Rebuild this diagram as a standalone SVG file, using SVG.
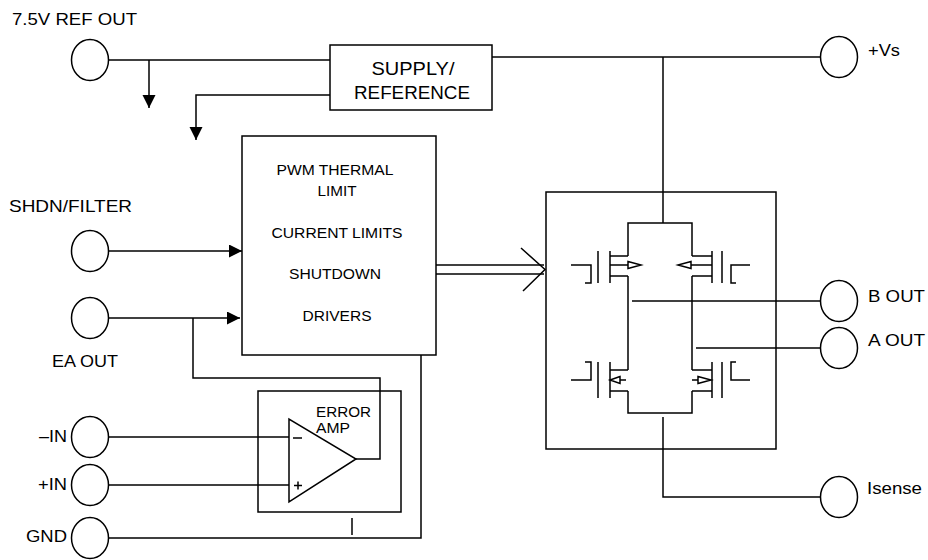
<svg xmlns="http://www.w3.org/2000/svg" width="928" height="560" viewBox="0 0 928 560">
<style>
  .s{fill:none;stroke:#000;stroke-width:1.5}
  .pin{fill:#fff;stroke:#000;stroke-width:1.5}
  .box{fill:#fff;stroke:#000;stroke-width:1.5}
  text{font-family:"Liberation Sans",Arial,Helvetica,sans-serif;fill:#000}
  .lbl{font-size:17px}
  .in{font-size:15.5px;text-anchor:middle}
  .amp{font-size:15.5px}
  .sup{font-size:18px;text-anchor:middle}
  .hol{fill:#fff;stroke:#000;stroke-width:1.5}
</style>
<defs>
  <marker id="arr" markerUnits="userSpaceOnUse" markerWidth="14" markerHeight="14" refX="13" refY="6.5" orient="auto">
    <path d="M0,0 L13,6.5 L0,13 z" fill="#000"/>
  </marker>
</defs>
<rect width="928" height="560" fill="#fff"/>

<g id="connectors" class="s">
  <!-- REF OUT to supply -->
  <path d="M108.5,60 H330"/>
  <path d="M149,60 V108" marker-end="url(#arr)"/>
  <path d="M330,95 H196 V140" marker-end="url(#arr)"/>
  <!-- supply to +Vs -->
  <path d="M492,57 H820.5"/>
  <path d="M663,57 V223"/>
  <!-- SHDN, EA OUT -->
  <path d="M108.5,251 H242" marker-end="url(#arr)"/>
  <path d="M108.5,318 H240" marker-end="url(#arr)"/>
  <path d="M193,318 V378 H380 V459 H356"/>
  <!-- inputs -->
  <path d="M108.5,437 H289"/>
  <path d="M108.5,485 H289"/>
  <!-- GND -->
  <path d="M108.5,538 H421 V355"/>
  <path d="M352,518 V535"/>
  <!-- PWM to bridge -->
  <path d="M436,265 H544"/>
  <path d="M436,274 H544"/>
  <path d="M521,248 L545,269.5 L523,291"/>
  <!-- outputs -->
  <path d="M632,301 H820.5"/>
  <path d="M696,348 H820.5"/>
  <path d="M663,417 V497 H820.5"/>
</g>

<g id="ref-out">
  <ellipse class="pin" cx="90" cy="60" rx="18.5" ry="20.5"/>
  <text class="lbl" x="12" y="25" textLength="125" lengthAdjust="spacingAndGlyphs">7.5V REF OUT</text>
</g>

<g id="supply">
  <rect class="box" x="330" y="45" width="162" height="65"/>
  <text class="sup" x="413" y="75" textLength="83" lengthAdjust="spacingAndGlyphs">SUPPLY/</text>
  <text class="sup" x="412" y="99" textLength="116" lengthAdjust="spacingAndGlyphs">REFERENCE</text>
</g>

<g id="pwm">
  <rect class="box" x="242" y="136" width="194" height="219"/>
  <text class="in" x="335" y="175" textLength="117" lengthAdjust="spacingAndGlyphs">PWM THERMAL</text>
  <text class="in" x="337" y="196" textLength="39" lengthAdjust="spacingAndGlyphs">LIMIT</text>
  <text class="in" x="337" y="238" textLength="131" lengthAdjust="spacingAndGlyphs">CURRENT LIMITS</text>
  <text class="in" x="335" y="279" textLength="92" lengthAdjust="spacingAndGlyphs">SHUTDOWN</text>
  <text class="in" x="337" y="321" textLength="69" lengthAdjust="spacingAndGlyphs">DRIVERS</text>
</g>

<g id="shdn">
  <ellipse class="pin" cx="90" cy="251" rx="18.5" ry="20.5"/>
  <text class="lbl" x="9" y="212" textLength="123" lengthAdjust="spacingAndGlyphs">SHDN/FILTER</text>
</g>

<g id="ea-out">
  <ellipse class="pin" cx="90" cy="318" rx="18.5" ry="20.5"/>
  <text class="lbl" x="52" y="367" textLength="66" lengthAdjust="spacingAndGlyphs">EA OUT</text>
</g>

<g id="minus-in">
  <ellipse class="pin" cx="90" cy="437" rx="18.5" ry="20.5"/>
  <text class="lbl" x="67" y="442" text-anchor="end" textLength="28" lengthAdjust="spacingAndGlyphs">–IN</text>
</g>

<g id="plus-in">
  <ellipse class="pin" cx="90" cy="485" rx="18.5" ry="20.5"/>
  <text class="lbl" x="67" y="490" text-anchor="end" textLength="29" lengthAdjust="spacingAndGlyphs">+IN</text>
</g>

<g id="gnd">
  <ellipse class="pin" cx="90" cy="538" rx="18.5" ry="20.5"/>
  <text class="lbl" x="26" y="542" textLength="41" lengthAdjust="spacingAndGlyphs">GND</text>
</g>

<g id="error-amp">
  <rect class="s" x="258" y="391" width="143" height="121"/>
  <path class="s" d="M289,419 L289,502 L356,459 Z"/>
  <path class="s" d="M293,438 H302"/>
  <path class="s" d="M294,485.5 H302 M298,481.5 V489.5"/>
  <text class="amp" x="316" y="417" textLength="55" lengthAdjust="spacingAndGlyphs">ERROR</text>
  <text class="amp" x="316" y="433" textLength="34" lengthAdjust="spacingAndGlyphs">AMP</text>
</g>

<g id="hbridge">
  <rect class="s" x="546" y="192" width="230" height="257"/>
  <!-- rails -->
  <path class="s" d="M628,256 V223 H692 V256"/>
  <path class="s" d="M628,276 V370 M628,391 V413 H692 V391 M692,370 V276"/>
  <!-- upper-left Q -->
  <path class="s" d="M571,265 H591 V283 H585"/>
  <path class="s" d="M598,251 V283 M610,251 V283"/>
  <path class="s" d="M610,256 H628 M610,276 H628 M610,265 H628"/>
  <path class="hol" d="M628,261.5 L641,265 L628,268.5 Z"/>
  <!-- upper-right Q -->
  <path class="s" d="M750,265 H731 V283 H736"/>
  <path class="s" d="M722,251 V283 M712,251 V283"/>
  <path class="s" d="M712,256 H692 M712,276 H692 M712,265 H691"/>
  <path class="hol" d="M691,261.5 L678,265 L691,268.5 Z"/>
  <!-- lower-left Q -->
  <path class="s" d="M585,362 H591 V380 H571"/>
  <path class="s" d="M598,362 V398 M610,362 V398"/>
  <path class="s" d="M610,370 H628 M610,391 H628 M620,380 H626"/>
  <path class="hol" d="M620,376.5 L610,380 L620,383.5 Z"/>
  <!-- lower-right Q -->
  <path class="s" d="M736,362 H731 V380 H750"/>
  <path class="s" d="M722,362 V398 M712,362 V398"/>
  <path class="s" d="M712,370 H692 M712,391 H692 M692,380 H698"/>
  <path class="hol" d="M698,376.5 L711,380 L698,383.5 Z"/>
</g>

<g id="vs">
  <ellipse class="pin" cx="839" cy="57" rx="18.5" ry="20.5"/>
  <text class="lbl" x="868" y="56" textLength="32" lengthAdjust="spacingAndGlyphs">+Vs</text>
</g>

<g id="bout">
  <ellipse class="pin" cx="839" cy="301" rx="18.5" ry="20.5"/>
  <text class="lbl" x="868" y="302" textLength="57" lengthAdjust="spacingAndGlyphs">B OUT</text>
</g>

<g id="aout">
  <ellipse class="pin" cx="839" cy="348" rx="18.5" ry="20.5"/>
  <text class="lbl" x="868" y="346" textLength="57" lengthAdjust="spacingAndGlyphs">A OUT</text>
</g>

<g id="isense">
  <ellipse class="pin" cx="839" cy="497" rx="18.5" ry="20.5"/>
  <text class="lbl" x="867" y="494" textLength="55" lengthAdjust="spacingAndGlyphs">Isense</text>
</g>
</svg>
